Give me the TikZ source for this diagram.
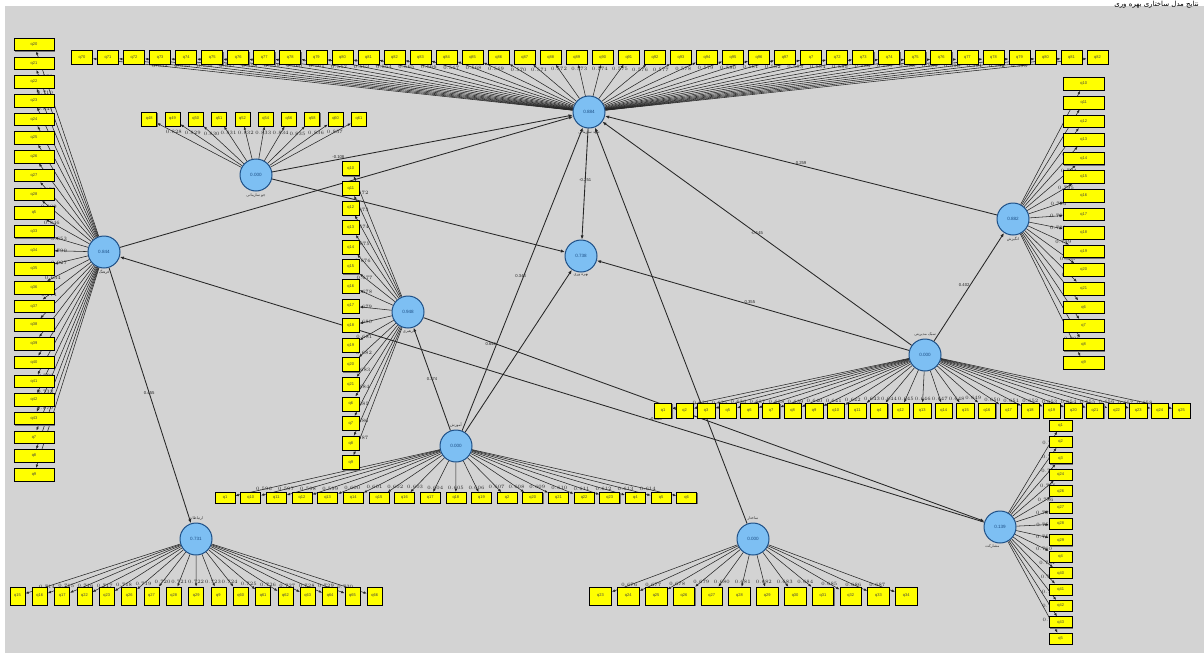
\documentclass[tikz,border=0pt]{standalone}
\usepackage{fontspec}
\setmainfont{Liberation Sans}
\newfontfamily\fafont[Script=Arabic]{DejaVu Sans}
\TeXXeTstate=1
\usetikzlibrary{arrows.meta,shadows}
\pgfdeclarelayer{bgl}
\pgfdeclarelayer{lines}
\pgfsetlayers{bgl,lines,main}
\definecolor{bgc}{HTML}{D3D3D3}
\definecolor{lvc}{HTML}{7DBFF3}
\definecolor{lvd}{HTML}{1D4F86}
\definecolor{lnc}{HTML}{262626}
\definecolor{boxc}{HTML}{FFFF00}
\newcommand\ldv[1]{\pgfmathparse{0.52+mod(#1*137+53,430)/1000}\pgfmathprintnumber[fixed,precision=3,zerofill]{\pgfmathresult}}
\tikzset{
  lat/.style={circle,fill=lvc,draw=lvd,line width=1pt,minimum size=32pt,inner sep=0pt,font=\fontsize{4.6}{5}\selectfont,text=lvd},
  ind/.style={rectangle,fill=boxc,draw=black,line width=0.7pt,inner sep=0pt,font=\fontsize{4}{5}\selectfont,text=black!75,
     drop shadow={shadow xshift=0.8pt,shadow yshift=-0.8pt,fill=black!55,opacity=1}},
  ld/.style={draw=lnc,line width=0.55pt,-{Latex[length=3.4pt,width=2.6pt]}},
  pth/.style={draw=lnc,line width=0.85pt,-{Latex[length=4.2pt,width=3.2pt]}},
  val/.style={font=\fontsize{3.6}{4}\selectfont,text=black!85,inner sep=0.4pt},
  pv/.style={font=\fontsize{4.2}{5}\selectfont,text=black!85,inner sep=0.5pt},
  nm/.style={font=\fafont\fontsize{3.8}{4.5}\selectfont,text=black!80,inner sep=0.5pt},
}
\begin{document}
\begin{tikzpicture}[x=1pt,y=-1pt]
\useasboundingbox (0,0) rectangle (1204,653);
\clip (0,0) rectangle (1204,653);
\begin{pgfonlayer}{bgl}
\fill[white] (0,0) rectangle (1204,653);
\fill[bgc] (5,6) rectangle (1204,653);
\end{pgfonlayer}
\node[font=\fafont\fontsize{7}{8}\selectfont,inner sep=0pt,anchor=north east] (title) at (1199,0.5) {\beginR نتایج مدل ساختاری بهره وری\endR};

% latent variables
\node[lat] (top)  at (589,112) {0.884};
\node[lat] (left) at (104,252) {0.844};
\node[lat] (ul)   at (256,175) {0.000};
\node[lat] (mid)  at (408,312) {0.948};
\node[lat] (cen)  at (581,256) {0.738};
\node[lat] (rr)   at (1013,219) {0.882};
\node[lat] (r2)   at (925,355) {0.000};
\node[lat] (bm)   at (456,446) {0.000};
\node[lat] (bl)   at (196,539) {0.731};
\node[lat] (br)   at (753,539) {0.000};
\node[lat] (fr)   at (1000,527) {0.139};

% latent names
\node[nm,below=1pt] (ntop) at (top.south) {\beginR تعهد سازمانی\endR};
\node[nm,below=1pt] (nleft) at (left.south) {\beginR فرهنگ\endR};
\node[nm,below=1pt] (nul) at (ul.south) {\beginR جو سازمانی\endR};
\node[nm,below=1pt] (nmid) at (mid.south) {\beginR رهبری\endR};
\node[nm,below=1pt] (ncen) at (cen.south) {\beginR بهره وری\endR};
\node[nm,below=1pt] (nrr) at (rr.south) {\beginR انگیزش\endR};
\node[nm,above=1pt] (nr2) at (r2.north) {\beginR سبک مدیریتی\endR};
\node[nm,above=1pt] (nbm) at (bm.north) {\beginR آموزش\endR};
\node[nm,above=1pt] (nbl) at (bl.north) {\beginR ارتباطات\endR};
\node[nm,above=1pt] (nbr) at (br.north) {\beginR ساختار\endR};
\node[nm,below left=0pt] (nfr) at (fr.south) {\beginR مشارکت\endR};

% indicators
\foreach \t [count=\i from 0] in {q20,q21,q22,q23,q24,q25,q26,q27,q28,q5,q33,q34,q35,q36,q37,q38,q39,q40,q41,q42,q43,q7,q8,q9}
  \node[ind,minimum width=40pt,minimum height=12.5pt] (L\i) at (34,{44.5+18.7*\i}) {\t};
\foreach \t [count=\i from 0] in {q70,q71,q72,q73,q74,q75,q76,q77,q78,q79,q80,q81,q82,q83,q84,q85,q86,q87,q88,q89,q90,q91,q92,q93,q94,q95,q96,q97,q7,q72,q73,q74,q75,q76,q77,q78,q79,q80,q81,q82}
  \node[ind,minimum width=21pt,minimum height=13.5pt] (T\i) at ({82+26.04*\i},57.5) {\t};
\foreach \t [count=\i from 0] in {q48,q49,q50,q51,q52,q54,q56,q58,q60,q61}
  \node[ind,minimum width=15pt,minimum height=14pt] (U\i) at ({149.2+23.3*\i},119) {\t};
\foreach \t [count=\i from 0] in {q10,q11,q12,q13,q14,q15,q16,q17,q18,q19,q20,q21,q6,q7,q8,q9}
  \node[ind,minimum width=17pt,minimum height=14pt] (M\i) at (350.8,{168.7+19.6*\i}) {\t};
\foreach \t [count=\i from 0] in {q10,q11,q12,q13,q14,q15,q16,q17,q18,q19,q20,q21,q6,q7,q8,q9}
  \node[ind,minimum width=41pt,minimum height=12.7pt] (R\i) at (1083.7,{84+18.6*\i}) {\t};
\foreach \t [count=\i from 0] in {q1,q2,q3,q5,q6,q7,q8,q9,q10,q11,q4,q12,q13,q14,q15,q16,q17,q18,q19,q20,q21,q22,q23,q24,q25}
  \node[ind,minimum width=17.5pt,minimum height=15pt] (S\i) at ({663+21.6*\i},410.5) {\t};
\foreach \t [count=\i from 0] in {q1,q2,q3,q24,q26,q27,q28,q29,q4,q40,q41,q42,q43,q5}
  \node[ind,minimum width=23.3pt,minimum height=11pt] (F\i) at (1060.7,{425.5+16.4*\i}) {\t};
\foreach \t [count=\i from 0] in {q1,q10,q11,q12,q13,q14,q15,q16,q17,q18,q19,q2,q20,q21,q22,q23,q4,q5,q6}
  \node[ind,minimum width=20pt,minimum height=11pt] (B\i) at ({225+25.65*\i},498) {\t};
\foreach \t [count=\i from 0] in {q15,q16,q17,q22,q23,q26,q27,q28,q29,q9,q60,q61,q62,q63,q64,q65,q66}
  \node[ind,minimum width=15pt,minimum height=18pt] (BL\i) at ({17.5+22.33*\i},596) {\t};
\foreach \t [count=\i from 0] in {q23,q24,q25,q26,q27,q28,q29,q30,q31,q32,q33,q34}
  \node[ind,minimum width=21.7pt,minimum height=17.7pt] (BR\i) at ({600.5+27.8*\i},596) {\t};

\begin{pgfonlayer}{lines}
\foreach \i in {0,...,23} \draw[ld] (left) -- (L\i) node[val,pos=0.86]{\ldv{\i}};
\foreach \i in {0,...,39} \draw[ld] (top) -- (T\i) node[val,pos=0.86]{\ldv{\i+3}};
\foreach \i in {0,...,9} \draw[ld] (ul) -- (U\i) node[val,pos=0.8]{\ldv{\i+5}};
\foreach \i in {0,...,15} \draw[ld] (mid) -- (M\i) node[val,pos=0.86]{\ldv{\i+7}};
\foreach \i in {0,...,15} \draw[ld] (rr) -- (R\i) node[val,pos=0.86]{\ldv{\i+11}};
\foreach \i in {0,...,24} \draw[ld] (r2) -- (S\i) node[val,pos=0.88]{\ldv{\i+13}};
\foreach \i in {0,...,13} \draw[ld] (fr) -- (F\i) node[val,pos=0.86]{\ldv{\i+17}};
\foreach \i in {0,...,18} \draw[ld] (bm) -- (B\i) node[val,pos=0.86]{\ldv{\i+19}};
\foreach \i in {0,...,16} \draw[ld] (bl) -- (BL\i) node[val,pos=0.86]{\ldv{\i+23}};
\foreach \i in {0,...,11} \draw[ld] (br) -- (BR\i) node[val,pos=0.86]{\ldv{\i+29}};

% structural paths
\draw[pth] (left) -- (top);
\draw[pth] (ul) -- (top) node[pv,pos=0.22,above]{-0.108};
\draw[pth] (bm) -- (top) node[pv,pos=0.51,xshift=-3pt]{0.343};
\draw[pth] (br) -- (top);
\draw[pth] (r2) -- (top) node[pv,pos=0.5]{-0.145};
\draw[pth] (rr) -- (top) node[pv,pos=0.5,above]{0.259};
\draw[pth] (top) -- (cen) node[pv,pos=0.46]{-0.251};
\draw[pth] (ul) -- (cen);
\draw[pth] (r2) -- (cen) node[pv,pos=0.51,above]{0.355};
\draw[pth] (bm) -- (cen);
\draw[pth] (bm) -- (mid) node[pv,pos=0.5]{0.374};
\draw[pth] (mid) -- (fr) node[pv,pos=0.12,below]{0.646};
\draw[pth] (fr) -- (left) node[pv,pos=0.38,above]{-0.083};
\draw[pth] (left) -- (bl) node[pv,pos=0.49]{0.455};
\draw[pth] (r2) -- (rr) node[pv,pos=0.52,left]{0.402};
\end{pgfonlayer}
\end{tikzpicture}
\end{document}
